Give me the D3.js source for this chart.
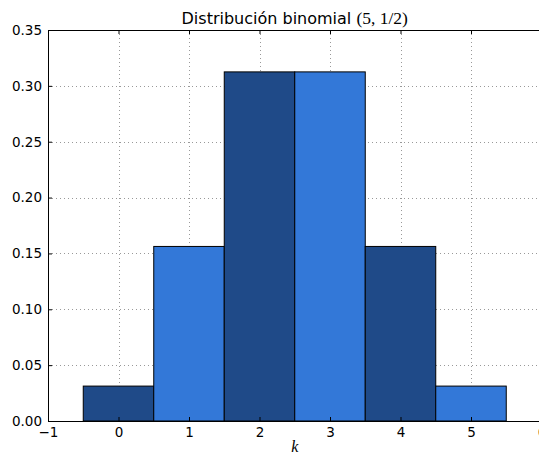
<!DOCTYPE html>
<html>
<head>
<meta charset="utf-8">
<script src="https://cdn.jsdelivr.net/npm/d3@7"></script>
<style>
  html, body { margin: 0; padding: 0; background: #fff; overflow: hidden; }
  svg { display: block; }
</style>
</head>
<body>
<svg id="chart" width="539" height="456"></svg>
<script>
// Binomial(5, 1/2) probability mass function
const ks = [0, 1, 2, 3, 4, 5];
const probs = [0.03125, 0.15625, 0.3125, 0.3125, 0.15625, 0.03125];
const barColors = ["#1f4a88", "#3378d8", "#1f4a88", "#3378d8", "#1f4a88", "#3378d8"];
const xTicks = [-1, 0, 1, 2, 3, 4, 5, 6];
const yTicks = [0, 0.05, 0.10, 0.15, 0.20, 0.25, 0.30, 0.35];

(function () {
const svg = d3.select("#chart");
const mLeft = 48, mRight = 541.5, mTop = 30, mBottom = 421;

const x = d3.scaleLinear().domain([-1, 6]).range([mLeft, mRight]);
const y = d3.scaleLinear().domain([0, 0.35]).range([mBottom, mTop]);

// grid
const grid = svg.append("g").attr("stroke", "#999").attr("stroke-width", 1)
  .attr("stroke-dasharray", "1,3");
grid.selectAll("line.v").data(xTicks.slice(1, -1)).join("line")
  .attr("x1", d => Math.round(x(d)) + 0.5).attr("x2", d => Math.round(x(d)) + 0.5)
  .attr("y1", mTop).attr("y2", mBottom);
grid.selectAll("line.h").data(yTicks.slice(1, -1)).join("line")
  .attr("y1", d => Math.round(y(d)) + 0.5).attr("y2", d => Math.round(y(d)) + 0.5)
  .attr("x1", mLeft).attr("x2", mRight);

// bars
svg.append("g").selectAll("rect").data(ks).join("rect")
  .attr("x", (d) => x(d - 0.5))
  .attr("width", (d) => x(d + 0.5) - x(d - 0.5))
  .attr("y", (d, i) => y(probs[i]))
  .attr("height", (d, i) => y(0) - y(probs[i]))
  .attr("fill", (d, i) => barColors[i])
  .attr("stroke", "#000").attr("stroke-width", 1);

// axes with inward ticks
const xAxis = d3.axisBottom(x).tickValues(xTicks).tickSizeInner(-4).tickSizeOuter(0)
  .tickFormat(d => d < 0 ? "\u2212" + Math.abs(d) : d);
const yAxis = d3.axisLeft(y).tickValues(yTicks).tickSizeInner(-4).tickSizeOuter(0)
  .tickFormat(d3.format(".2f"));
const xTop = d3.axisTop(x).tickValues(xTicks).tickSizeInner(-4).tickSizeOuter(0).tickFormat("");

const gx = svg.append("g").attr("transform", `translate(0,${mBottom})`).call(xAxis);
const gy = svg.append("g").attr("transform", `translate(${mLeft},0)`).call(yAxis);
const gt = svg.append("g").attr("transform", `translate(0,${mTop})`).call(xTop);

[gx, gy, gt].forEach(g => {
  g.select(".domain").attr("stroke", "#000").attr("stroke-width", 1);
  g.selectAll(".tick line").attr("stroke", "#000");
  g.selectAll(".tick text").style("font-size", "13.5px").style("font-family", "'DejaVu Sans', sans-serif").attr("fill", "#000");
});
gx.selectAll(".tick text").attr("dy", "0.9em").attr("y", 4);
gy.selectAll(".tick text").attr("x", -6);

// title: plain words followed by the math-styled parameters
const title = svg.append("text").attr("x", (mLeft + mRight) / 2).attr("y", 24)
  .attr("text-anchor", "middle").attr("fill", "#000");
title.append("tspan").style("font-size", "16px")
  .style("font-family", "'DejaVu Sans', sans-serif").text("Distribución binomial ");
title.append("tspan").style("font-size", "17.5px")
  .style("font-family", "'Liberation Serif', 'DejaVu Serif', serif").text("(5, 1/2)");

// x label
svg.append("text").attr("x", (mLeft + mRight) / 2).attr("y", 452)
  .attr("text-anchor", "middle").style("font-size", "16px")
  .style("font-family", "'Liberation Serif', serif").style("font-style", "italic").attr("fill", "#000").text("k");
})();
</script>
</body>
</html>
